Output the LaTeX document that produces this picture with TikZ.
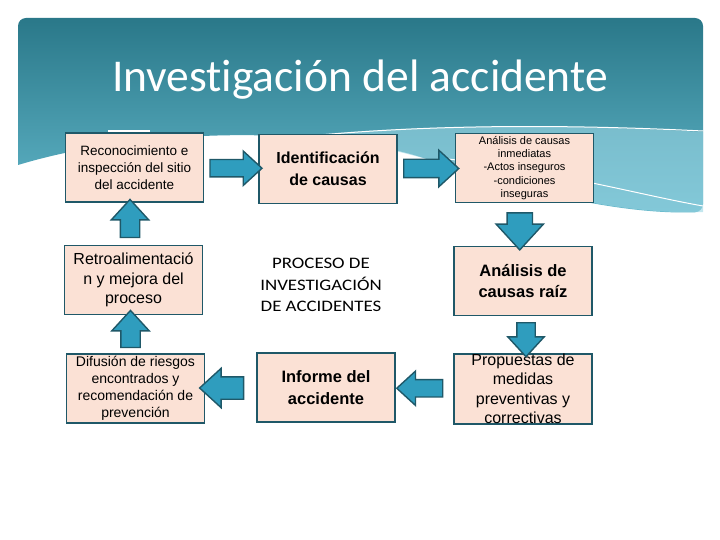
\documentclass[tikz,border=0pt]{standalone}
\usepackage{fontspec}
\setmainfont{Liberation Sans}
\newfontfamily\titlefont[Ligatures=NoCommon]{Carlito}
\newfontfamily\procfont[FakeStretch=1.18]{Carlito}
\usetikzlibrary{shapes.arrows,calc}

\definecolor{bannertop}{HTML}{2A7889}
\definecolor{bannerbot}{HTML}{62B7CA}
\definecolor{wavecol}{HTML}{9AD5E3}
\definecolor{boxfill}{HTML}{FBE1D5}
\definecolor{boxline}{HTML}{1F5868}
\definecolor{arrfill}{HTML}{2F9DBE}

\begin{document}
\begin{tikzpicture}[x=1pt, y=-1pt,
    box/.style = {draw=boxline, line width=1.8pt, fill=boxfill, minimum width=138pt, minimum height=69pt, inner sep=0pt, align=center},
    blk/.style = {single arrow, draw=boxline, line width=1.4pt, fill=arrfill, inner xsep=0pt, single arrow tip angle=85},
  ]
  \useasboundingbox (0,0) rectangle (720,540);

  % banner
  \shade[top color=bannertop, bottom color=bannerbot, rounded corners=8pt]
    (18,165) -- (18,18) -- (703,18) -- (703,212)
    .. controls (620,215) and (520,190) .. (430,160)
    .. controls (330,128) and (150,125) .. (18,165);
  \fill[wavecol, opacity=0.6] (300,136) .. controls (450,122) and (600,126) .. (703,132)
    -- (703,212) .. controls (620,215) and (520,190) .. (430,160)
    .. controls (380,146) and (340,139) .. (300,136);
  \draw[white, line width=1.2pt] (108,131) -- (150,131);
  \draw[white, line width=1pt] (215,148) .. controls (350,126) and (520,122) .. (703,131);
  \draw[white, line width=1pt] (440,158) .. controls (560,172) and (640,195) .. (703,206);
  \node (title) at (360,92) [anchor=base, text=white, font=\titlefont\fontsize{45.5}{50}\selectfont] {Investigación del accidente};

  % boxes
  \node (recon) at (134.5,167.5) [box, font=\fontsize{13.5}{17}\selectfont] {Reconocimiento e\\inspección del sitio\\del accidente};
  \node (ident) at (328,169) [box, font=\bfseries\fontsize{16}{22}\selectfont] {Identificación\\de causas};
  \node (inmed) at (524.5,168) [box, font=\fontsize{11}{13.2}\selectfont] {Análisis de causas\\inmediatas\\-Actos inseguros\\-condiciones\\inseguras};
  \node (retro) at (133.5,280) [box, font=\fontsize{16}{19.5}\selectfont] {Retroalimentació\\n y mejora del\\proceso};
  \node (proc) at (321,285) [align=center, font=\procfont\fontsize{16}{21.5}\selectfont] {PROCESO DE\\INVESTIGACIÓN\\DE ACCIDENTES};
  \node (raiz) at (523,281) [box, font=\bfseries\fontsize{16.5}{21}\selectfont] {Análisis de\\causas raíz};
  \node (difus) at (135.5,388.5) [box, font=\fontsize{14}{17}\selectfont] {Difusión de riesgos\\encontrados y\\recomendación de\\prevención};
  \node (informe) at (326,387.5) [box, font=\bfseries\fontsize{16.5}{22}\selectfont] {Informe del\\accidente};
  \node (propu) at (523,389) [box, font=\fontsize{16}{19.5}\selectfont] {Propuestas de\\medidas\\preventivas y\\correctivas};

  % block arrows
  \node (a1) at ($(recon.east)!0.5!(ident.west)$) [blk, minimum height=52pt, inner ysep=8pt, single arrow head extend=8.5pt] {};
  \node (a2) at ($(ident.east)!0.5!(inmed.west)$) [blk, minimum height=55pt, inner ysep=8.5pt, single arrow head extend=9pt] {};
  \node (a3) at ($(retro.north)!0.5!(recon.south)$) [blk, xshift=-4pt, rotate=90, minimum height=38pt, inner ysep=9pt, single arrow head extend=9pt] {};
  \node (a4) at ($(difus.north)!0.5!(retro.south)$) [blk, xshift=-4pt, rotate=90, minimum height=37pt, inner ysep=9pt, single arrow head extend=9pt] {};
  \node (a5) at ($(inmed.south)!0.5!(raiz.north)$) [blk, xshift=-4pt, rotate=-90, minimum height=37pt, inner ysep=12pt, single arrow head extend=11pt] {};
  \node (a6) at ($(raiz.south)!0.5!(propu.north)$) [blk, xshift=3pt, rotate=-90, minimum height=34pt, inner ysep=8.5pt, single arrow head extend=9pt] {};
  \node (a7) at ($(propu.west)!0.5!(informe.east)$) [blk, rotate=180, minimum height=46pt, inner ysep=8pt, single arrow head extend=8.5pt] {};
  \node (a8) at ($(informe.west)!0.5!(difus.east)$) [blk, xshift=-3pt, rotate=180, minimum height=44pt, inner ysep=10.5pt, single arrow head extend=8.5pt] {};
\end{tikzpicture}
\end{document}
